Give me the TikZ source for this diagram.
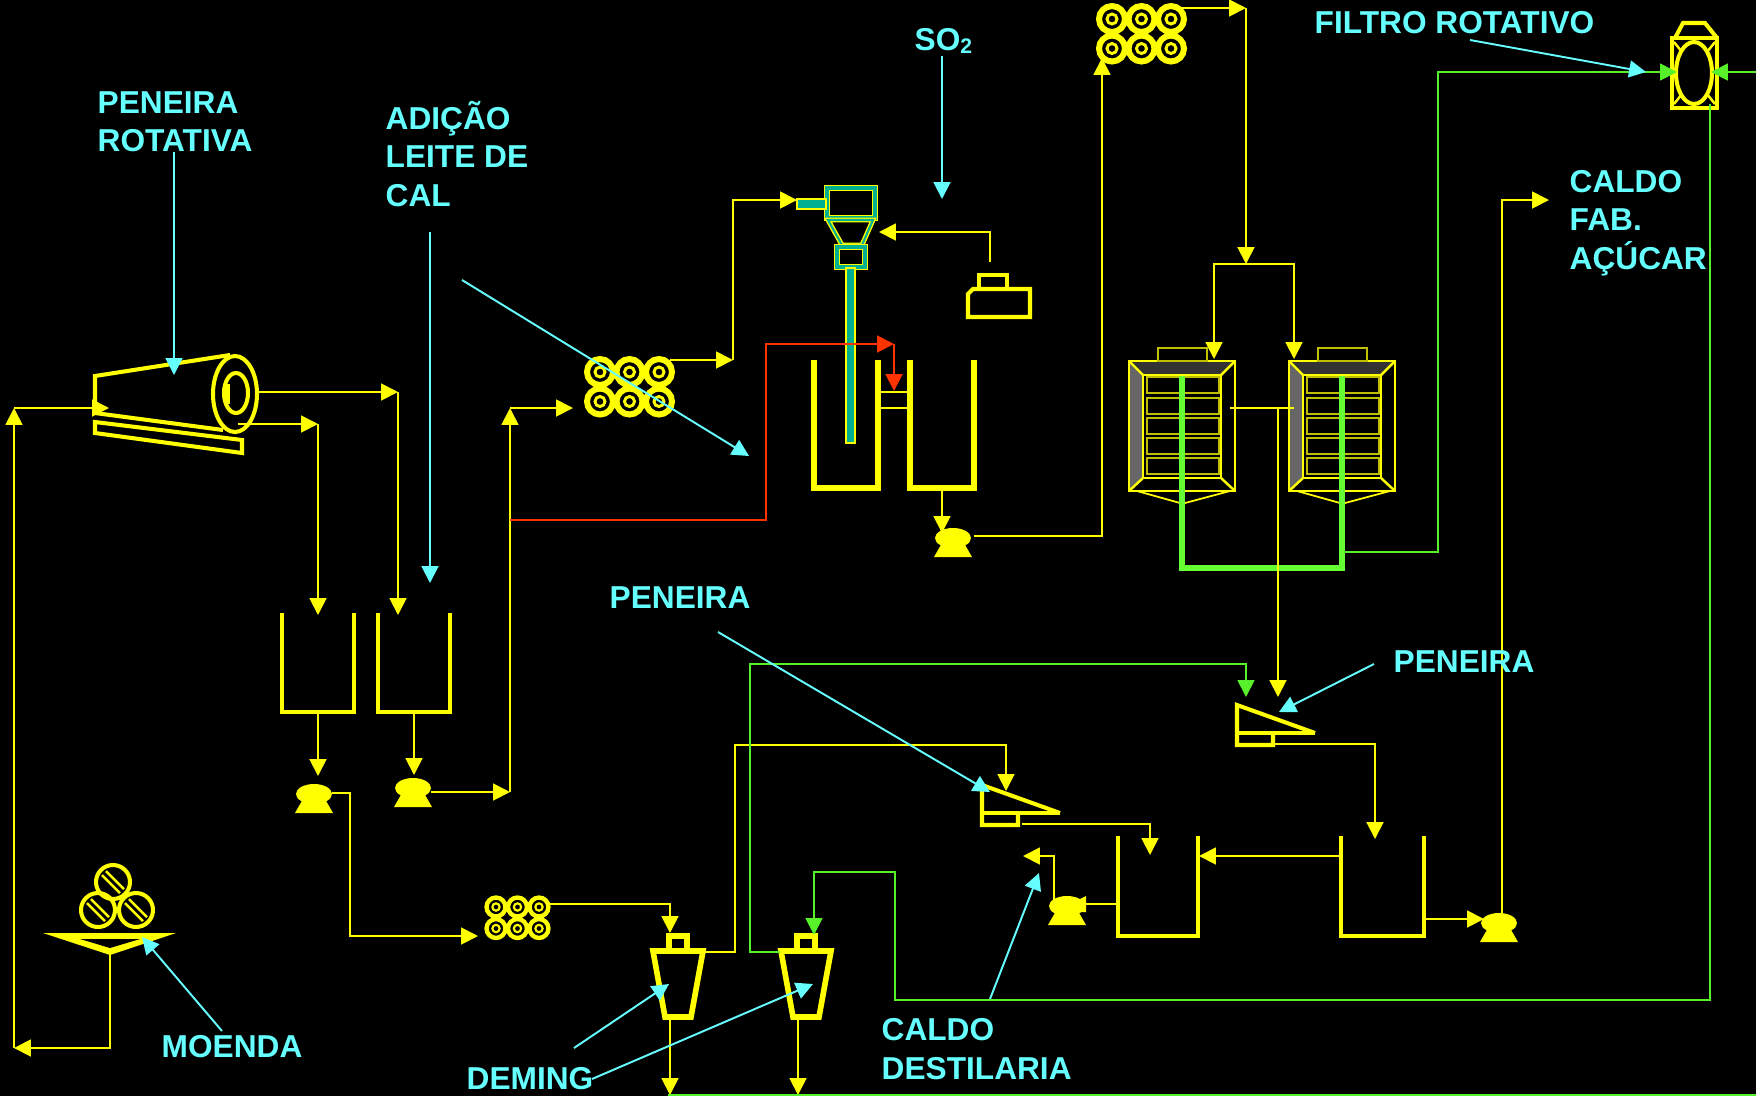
\documentclass[tikz,border=0pt]{standalone}
\usepackage{fontspec}
\setmainfont{Liberation Sans}
\usetikzlibrary{arrows.meta}
\definecolor{amarelo}{HTML}{FFFF00}
\definecolor{verde}{HTML}{66FF33}
\definecolor{verdefino}{HTML}{58F02A}
\definecolor{ciano}{HTML}{66FFFF}
\definecolor{vermelho}{HTML}{FF3300}
\definecolor{teal1}{HTML}{00B090}

\begin{document}
\begin{tikzpicture}[x=0.01cm,y=-0.01cm]
	\tikzstyle{ponta}=[-{Triangle[length=4.8pt,width=4.8pt]}]
	\tikzstyle{tubo}=[draw=amarelo,line width=0.55pt]
	\tikzstyle{seta}=[tubo,ponta]
	\tikzstyle{vermelha}=[draw=vermelho,line width=0.55pt,ponta]
	\tikzstyle{lverde}=[draw=verdefino,line width=0.5pt]
	\tikzstyle{sverde}=[lverde,ponta]
	\tikzstyle{guia}=[draw=ciano,line width=0.55pt,ponta]
	\tikzstyle{rotulo}=[text=ciano,font=\bfseries\fontsize{9}{10.9}\selectfont,align=left,anchor=west,inner sep=0pt]
	\tikzstyle{traco}=[draw=amarelo,line width=1.15pt]
	\tikzstyle{torre}=[draw=amarelo,line width=0.4pt,double=teal1,double distance=1pt]
	\tikzstyle{torrefina}=[draw=amarelo,line width=0.7pt,fill=teal1]
	\tikzset{
		bomba/.pic={
			\fill[amarelo] (0,0) ellipse (18 and 10);
			\fill[amarelo] (-11,5) -- (11,5) -- (19,19) -- (-19,19) -- cycle;
		},
		trocador/.pic={
			\foreach \cx in {0,1,2} \foreach \cy in {0,1} {
				\draw[amarelo,line width=#1*0.058pt] (\cx*#1,\cy*#1) circle (#1*0.44);
				\draw[amarelo,line width=#1*0.028pt] (\cx*#1,\cy*#1) circle (#1*0.17);
			}
		},
		filtro/.pic={
			\fill[black!60] (0,0) -- (14,14) -- (14,117) -- (0,130) -- cycle;
			\fill[black!80] (0,0) -- (106,0) -- (92,14) -- (14,14) -- cycle;
			\foreach \ly in {16,37,57,77,97}
				\draw[amarelo!75!black,line width=0.5pt] (18,\ly) rectangle (90,\ly+16);
			\draw[traco,line width=0.8pt] (0,0) rectangle (106,130);
			\draw[traco,line width=0.8pt] (14,14) rectangle (92,117);
			\draw[traco,line width=0.7pt] (0,0) -- (14,14) (106,0) -- (92,14) (0,130) -- (14,117) (106,130) -- (92,117);
			\draw[amarelo!75!black,line width=0.6pt] (29,-13) rectangle (78,0);
			\draw[traco,line width=0.5pt] (8,130) -- (51,142) (101,130) -- (56,142);
		},
		peneira/.pic={
			\draw[traco,line join=miter] (78,28) -- (0,0) -- (0,40) -- (36,40) -- (36,28);
			\draw[traco] (0,28) -- (78,28);
		},
		deming/.pic={
			\draw[amarelo,line width=1.6pt] (-25,0) -- (25,0) -- (13,66) -- (-13,66) -- cycle;
			\draw[amarelo,line width=1.5pt] (-9,0) rectangle (9,-15);
		}
	}

	\fill[black] (0,0) rectangle (1756,1096);
	\useasboundingbox (0,0) rectangle (1756,1096);

	% moenda
	\foreach \mx/\my in {113/882,98/910,136/910} {
		\draw[traco] (\mx,\my) circle (17);
		\draw[traco,line width=0.7pt] (\mx-11,\my-7) -- (\mx+7,\my+11) (\mx-7,\my-11) -- (\mx+11,\my+7);
	}
	\fill[amarelo] (43,933) -- (176,933) -- (110,955) -- cycle;
	\fill[black] (80,939) -- (140,939) -- (110,948) -- cycle;

	% peneira rotativa
	\draw[traco] (230,355) -- (95,376) -- (95,413) -- (223,430);
	\draw[traco] (95,422) -- (95,433) -- (242,453) -- (242,440) -- cycle;
	\fill[black] (235,394) ellipse (22 and 38);
	\draw[traco] (235,394) ellipse (22 and 38);
	\draw[traco] (236,393) ellipse (12 and 20);
	\draw[traco,line width=1.6pt] (227,384) -- (227,404);

	% tanques
	\foreach \ta/\tb/\tc/\td/\te in {282/354/613/712/1.1pt,378/450/613/712/1.1pt,814/878/360/488/1.6pt,910/974/360/488/1.6pt,1118/1198/836/936/1.3pt,1341/1424/836/936/1.3pt}
		\draw[amarelo,line width=\te] (\ta,\tc) -- (\ta,\td) -- (\tb,\td) -- (\tb,\tc);
	\draw[tubo] (878,392) -- (910,392) (878,408) -- (910,408);

	% bombas
	\pic at (314,794) {bomba};
	\pic at (413,788) {bomba};
	\pic at (953,538) {bomba};
	\pic at (1067,906) {bomba};
	\fill[amarelo] (1078,900) -- (1086,896) -- (1086,912) -- (1078,912) -- cycle;
	\pic at (1499,923) {bomba};

	% trocadores
	\pic at (600,372) {trocador=29.5};
	\pic at (1112,19) {trocador=29.5};
	\pic at (496,907) {trocador=21.5};

	% torre de sulfitacao
	\draw[torre] (827,188) rectangle (875,218);
	\draw[torrefina] (797,199) rectangle (826,209);
	\draw[torre,double distance=0.6pt] (828,220) -- (873,220) -- (862,245) -- (842,245) -- cycle;
	\draw[torre] (837,247) rectangle (865,267);
	\draw[torrefina] (846,268) rectangle (855,443);

	% forno
	\draw[traco] (968,317) -- (968,294) -- (973,289) -- (1030,289) -- (1030,317) -- cycle;
	\draw[traco] (979,289) -- (979,275) -- (1007,275) -- (1007,289);

	% filtros
	\pic at (1129,361) {filtro};
	\pic at (1289,361) {filtro};
	\draw[verde,line width=1.7pt] (1182,376) -- (1182,568) -- (1342,568) -- (1342,376);

	% filtro rotativo
	\draw[traco] (1672,38) rectangle (1717,108);
	\draw[traco] (1675,38) -- (1683,23) -- (1705,23) -- (1717,38);
	\draw[traco] (1694,73) ellipse (18 and 31);
	\draw[traco,line width=0.7pt] (1674,42) -- (1682,52) (1715,42) -- (1707,52) (1674,104) -- (1682,94) (1715,104) -- (1707,94);

	% peneiras e deming
	\pic at (1237,705) {peneira};
	\pic at (982,785) {peneira};
	\pic at (678,951) {deming};
	\pic at (806,951) {deming};

	\foreach \n/\x/\y in {
		m1/110/955, m2/110/1048, m3/14/1048, m4/14/408, m5/109/408,
		r1/238/424, r2/318/424, r3/318/615, r4/257/392, r5/398/392, r6/398/615,
		t1/318/712, t2/318/776, t3/414/712, t4/414/775,
		b1/332/793, b2/350/793, b3/350/936, b4/478/936,
		b5/431/792, b6/510/792, b7/510/408, b8/573/408,
		c1/670/360, c2/733/360, c3/733/200, c4/797/200,
		f1/990/262, f2/990/232, f3/879/232,
		d1/942/488, d2/942/533, d3/974/536, d4/1102/536, d5/1102/58,
		e1/1180/8, e2/1246/8, e3/1246/264, e4/1214/264, e5/1214/359, e6/1294/264, e7/1294/359,
		g1/1230/408, g2/1294/408, g3/1278/408, g4/1278/697,
		h1/1273/744, h2/1375/744, h3/1375/839,
		i1/704/952, i2/735/952, i3/735/745, i4/1006/745, i5/1006/791,
		j1/1022/824, j2/1150/824, j3/1150/855,
		k1/1341/856, k2/1199/856, k3/1118/904, k4/1086/904, k5/1054/900, k6/1054/856, k7/1023/856,
		l1/1424/919, l2/1484/919, l3/1502/914, l4/1502/200, l5/1549/200,
		n1/550/904, n2/670/904, n3/670/933, n4/670/1017, n5/670/1095, n6/798/1017, n7/798/1095
	} \coordinate (\n) at (\x,\y);

	% linhas amarelas
	\draw[seta] (m1) -- (m2) -- (m3);
	\draw[seta] (m3) -- (m4);
	\draw[seta] (m4) -- (m5);
	\draw[seta] (r1) -- (r2);
	\draw[seta] (r2) -- (r3);
	\draw[seta] (r4) -- (r5);
	\draw[seta] (r5) -- (r6);
	\draw[seta] (t1) -- (t2);
	\draw[seta] (t3) -- (t4);
	\draw[seta] (b1) -- (b2) -- (b3) -- (b4);
	\draw[seta] (b5) -- (b6);
	\draw[seta] (b6) -- (b7);
	\draw[seta] (b7) -- (b8);
	\draw[seta] (c1) -- (c2);
	\draw[seta] (c2) -- (c3) -- (c4);
	\draw[seta] (f1) -- (f2) -- (f3);
	\draw[seta] (d1) -- (d2);
	\draw[seta] (d3) -- (d4) -- (d5);
	\draw[seta] (e1) -- (e2);
	\draw[seta] (e2) -- (e3);
	\draw[seta] (e3) -- (e4) -- (e5);
	\draw[seta] (e3) -- (e6) -- (e7);
	\draw[tubo] (g1) -- (g2);
	\draw[seta] (g3) -- (g4);
	\draw[seta] (h1) -- (h2) -- (h3);
	\draw[seta] (i1) -- (i2) -- (i3) -- (i4) -- (i5);
	\draw[seta] (j1) -- (j2) -- (j3);
	\draw[seta] (k1) -- (k2);
	\draw[tubo] (k3) -- (k4);
	\draw[seta] (k5) -- (k6) -- (k7);
	\draw[seta] (l1) -- (l2);
	\draw[seta] (l3) -- (l4) -- (l5);
	\draw[seta] (n1) -- (n2) -- (n3);
	\draw[seta] (n4) -- (n5);
	\draw[seta] (n6) -- (n7);

	% linha vermelha
	\coordinate (v1) at (510,520);
	\coordinate (v2) at (766,520);
	\coordinate (v3) at (766,344);
	\coordinate (v4) at (894,344);
	\coordinate (v5) at (894,391);
	\draw[vermelha] (v1) -- (v2) -- (v3) -- (v4);
	\draw[vermelha] (v4) -- (v5);

	% linhas verdes
	\foreach \n/\x/\y in {
		s1/1345/552, s2/1438/552, s3/1438/72, s4/1677/72, s5/1756/72, s6/1711/72,
		u1/1710/104, u2/1710/1000, u3/895/1000, u4/895/872, u5/814/872, u6/814/935,
		w1/780/952, w2/750/952, w3/750/664, w4/1246/664, w5/1246/697,
		y1/668/1095, y2/1756/1095
	} \coordinate (\n) at (\x,\y);
	\draw[sverde] (s1) -- (s2) -- (s3) -- (s4);
	\draw[sverde] (s5) -- (s6);
	\draw[sverde] (u1) -- (u2) -- (u3) -- (u4) -- (u5) -- (u6);
	\draw[sverde] (w1) -- (w2) -- (w3) -- (w4) -- (w5);
	\draw[lverde] (y1) -- (y2);

	% guias
	\foreach \n/\x/\y in {
		a1/174/152, a2/174/375, a3/430/232, a4/430/583, a5/462/280, a6/749/456,
		a7/942/56, a8/942/199, a9/1470/40, a10/1646/72, a11/1374/664, a12/1279/712,
		a13/718/632, a14/990/792, a15/990/999, a16/1039/873, a17/222/1031, a18/142/937,
		a19/574/1048, a20/669/984, a21/592/1079, a22/813/984
	} \coordinate (\n) at (\x,\y);
	\foreach \o/\d in {a1/a2,a3/a4,a5/a6,a7/a8,a9/a10,a11/a12,a13/a14,a15/a16,a17/a18,a19/a20,a21/a22}
		\draw[guia] (\o) -- (\d);

	% rotulos
	\node[rotulo] (rotativa) at (97,122) {PENEIRA\\ROTATIVA};
	\node[rotulo] (adicao) at (385,154) {ADIÇÃO\\LEITE DE\\CAL};
	\node[rotulo] (so) at (914,41) {SO\textsubscript{2}};
	\node[rotulo] (rotfiltro) at (1314,23) {FILTRO ROTATIVO};
	\node[rotulo] (fabrica) at (1569,223) {CALDO\\FAB.\\AÇÚCAR};
	\node[rotulo] (peneiraA) at (609,598) {PENEIRA};
	\node[rotulo] (peneiraB) at (1393,662) {PENEIRA};
	\node[rotulo] (destilaria) at (881,1049) {CALDO\\DESTILARIA};
	\node[rotulo] (deming) at (466,1079) {DEMING};
	\node[rotulo] (moenda) at (161,1047) {MOENDA};
\end{tikzpicture}
\end{document}
